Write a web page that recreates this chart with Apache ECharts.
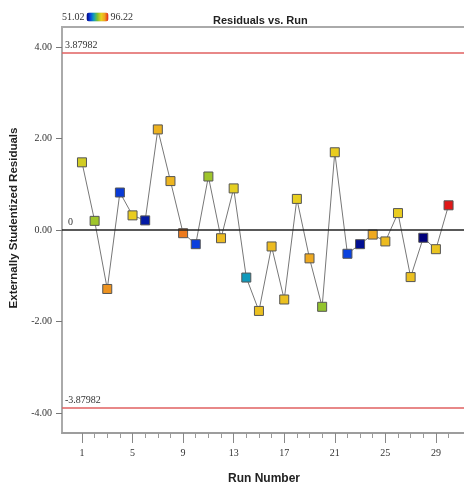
<!DOCTYPE html>
<html>
<head>
<meta charset="utf-8">
<script src="https://cdn.jsdelivr.net/npm/echarts@6/dist/echarts.min.js"></script>
<style>
  html, body { margin: 0; padding: 0; background: #fff; }
  #chart { width: 464px; height: 482px; }
</style>
</head>
<body>
<div id="chart"></div>
<script>
// run numbers and externally studentized residuals
var runs = [1, 2, 3, 4, 5, 6, 7, 8, 9, 10, 11, 12, 13, 14, 15, 16, 17, 18, 19, 20, 21, 22, 23, 24, 25, 26, 27, 28, 29, 30];
var residuals = [1.48, 0.20, -1.29, 0.82, 0.32, 0.21, 2.20, 1.07, -0.07, -0.31, 1.17, -0.18, 0.91, -1.04, -1.77,
  -0.36, -1.52, 0.68, -0.62, -1.68, 1.70, -0.52, -0.31, -0.10, -0.25, 0.37, -1.03, -0.17, -0.42, 0.54];
// response value of each run (used for the colour of the square)
var response = [79.5, 75.9, 89.4, 57.8, 81.8, 54.2, 85.8, 85.4, 90.8, 58.3, 75.9, 84.5, 80.9, 65.5, 83.6,
  84.5, 83.6, 81.3, 87.2, 75.0, 81.8, 58.7, 52.8, 87.2, 84.5, 81.8, 83.6, 51.02, 83.1, 96.22];
var responseRange = [51.02, 96.22];
var limits = [3.87982, -3.87982];
var yTicks = [-4, -2, 0, 2, 4];
var xMajor = [1, 5, 9, 13, 17, 21, 25, 29];

var serif = 'Liberation Serif';
var sans = 'Liberation Sans';

var linePts = [];
var dots = [];
for (var i = 0; i < runs.length; i++) {
  linePts.push([runs[i], residuals[i]]);
  dots.push([runs[i], residuals[i], response[i]]);
}

var xMin = -0.58, xMax = 31.38;

var chart = echarts.init(document.getElementById('chart'));
chart.setOption({
  animation: false,
  title: {
    text: 'Residuals vs. Run',
    left: 208,
    top: 10,
    textStyle: { fontFamily: sans, fontWeight: 'bold', fontSize: 11, color: '#222' }
  },
  visualMap: {
    type: 'continuous',
    min: responseRange[0],
    max: responseRange[1],
    seriesIndex: 1,
    dimension: 2,
    orient: 'horizontal',
    calculable: false,
    left: 62,
    top: 12,
    padding: 0,
    itemWidth: 9,
    itemHeight: 22,
    textGap: 2,
    text: ['96.22', '51.02'],
    textStyle: { fontFamily: serif, fontSize: 10, color: '#333' },
    inRange: { color: ['#00007a', '#0a40e0', '#10a0b8', '#80c030', '#e8d020', '#f0a020', '#e01818'] }
  },
  grid: {
    left: 62, top: 27, right: -2, bottom: 49,
    outerBoundsMode: 'none',
    containLabel: false,
    show: true, borderColor: '#aaa', borderWidth: 2
  },
  xAxis: [{
    type: 'value',
    min: xMin, max: xMax,
    position: 'bottom',
    name: 'Run Number',
    nameLocation: 'middle',
    nameGap: 40,
    nameTextStyle: { fontFamily: sans, fontWeight: 'bold', fontSize: 12, color: '#222' },
    axisLine: { show: true, onZero: false, lineStyle: { color: '#999', width: 1.5 } },
    axisTick: { show: true, customValues: runs, length: 5, lineStyle: { color: '#999' } },
    axisLabel: { show: false },
    splitLine: { show: false }
  }, {
    type: 'value',
    min: xMin, max: xMax,
    position: 'bottom',
    axisLine: { show: false, onZero: false },
    axisTick: { show: true, customValues: xMajor, length: 10, lineStyle: { color: '#888' } },
    axisLabel: {
      customValues: xMajor, margin: 15,
      fontFamily: serif, fontSize: 10, color: '#333'
    },
    splitLine: { show: false }
  }],
  yAxis: {
    type: 'value',
    min: -4.44, max: 4.44,
    name: 'Externally Studentized Residuals',
    nameLocation: 'middle',
    nameRotate: 90,
    nameGap: 40,
    nameTextStyle: { fontFamily: sans, fontWeight: 'bold', fontSize: 11.5, color: '#222', padding: [0, 0, 0, 24] },
    axisLine: { show: true, onZero: false, lineStyle: { color: '#aaa', width: 2 } },
    axisTick: { show: true, customValues: yTicks, length: 6, lineStyle: { color: '#777' } },
    axisLabel: {
      customValues: yTicks, margin: 10,
      fontFamily: serif, fontSize: 10, color: '#333',
      formatter: function (v) { return v.toFixed(2); }
    },
    splitLine: { show: false }
  },
  series: [{
    type: 'line',
    data: linePts,
    showSymbol: false,
    lineStyle: { color: '#777', width: 1 },
    z: 2,
    markLine: {
      silent: true,
      symbol: 'none',
      data: [
        { yAxis: limits[0], lineStyle: { color: '#e06060', width: 1.5, type: 'solid' },
          label: { formatter: '3.87982', position: 'insideStartTop', distance: [3, 2] } },
        { yAxis: limits[1], lineStyle: { color: '#e06060', width: 1.5, type: 'solid' },
          label: { formatter: '-3.87982', position: 'insideStartTop', distance: [3, 2] } },
        { yAxis: 0, lineStyle: { color: '#222', width: 1.5, type: 'solid' },
          label: { formatter: '0', position: 'insideStartTop', distance: [6, 3] } }
      ],
      label: { fontFamily: serif, fontSize: 10, color: '#333' }
    }
  }, {
    type: 'scatter',
    data: dots,
    symbol: 'rect',
    symbolSize: 9,
    itemStyle: { borderColor: '#555', borderWidth: 1, opacity: 1 },
    z: 3
  }]
});
</script>
</body>
</html>
